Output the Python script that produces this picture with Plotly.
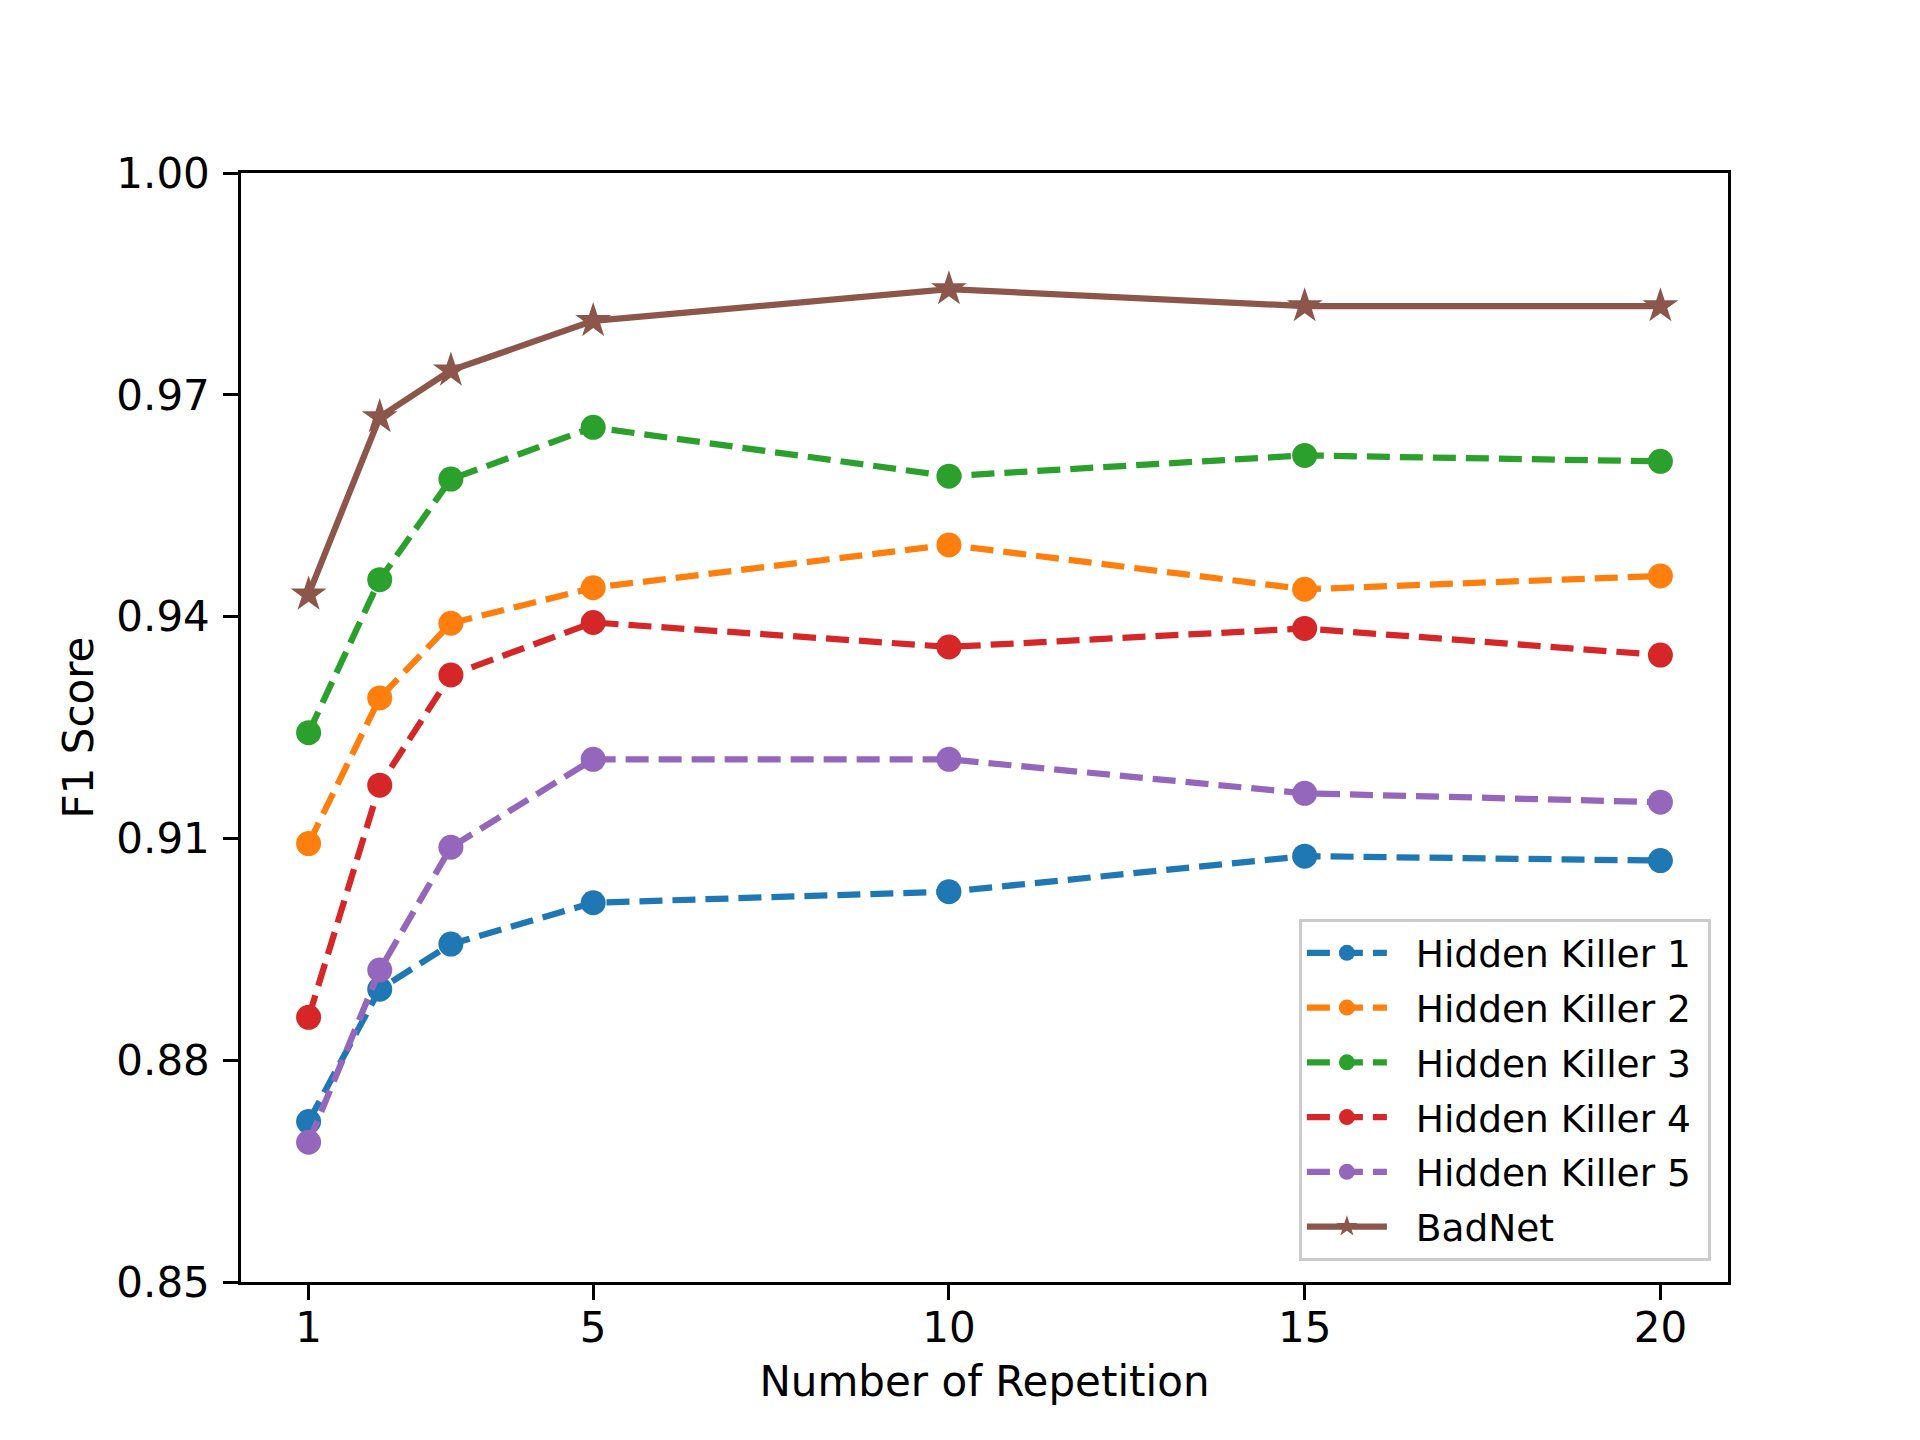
import plotly.graph_objects as go

x_vals = [1, 2, 3, 5, 10, 15, 20]
hk1 = [0.8717, 0.8896, 0.8957, 0.9013, 0.9028, 0.9076, 0.9070]
hk2 = [0.9093, 0.9290, 0.9391, 0.9439, 0.9497, 0.9437, 0.9455]
hk3 = [0.9243, 0.9450, 0.9586, 0.9656, 0.9590, 0.9618, 0.9610]
hk4 = [0.8858, 0.9172, 0.9321, 0.9392, 0.9359, 0.9384, 0.9348]
hk5 = [0.8689, 0.8922, 0.9088, 0.9207, 0.9207, 0.9161, 0.9149]
badnet = [0.9430, 0.9670, 0.9733, 0.9800, 0.9843, 0.9820, 0.9820]

names = ["Hidden Killer 1", "Hidden Killer 2", "Hidden Killer 3",
         "Hidden Killer 4", "Hidden Killer 5", "BadNet"]
series = [hk1, hk2, hk3, hk4, hk5, badnet]
colors = ["#1f77b4", "#ff7f0e", "#2ca02c", "#d62728", "#9467bd", "#8c564b"]

x_ticks = [1, 5, 10, 15, 20]
y_ticks = [0.85, 0.88, 0.91, 0.94, 0.97, 1.00]
y_tick_text = ["0.85", "0.88", "0.91", "0.94", "0.97", "1.00"]

fig = go.Figure()
for i, (name, ys, c) in enumerate(zip(names, series, colors)):
    is_bad = name == "BadNet"
    fig.add_trace(go.Scatter(
        x=x_vals, y=ys, name="\u00a0\u00a0" + name + "\u00a0", mode="lines+markers",
        legendgroup=f"g{i}",
        line=dict(color=c, width=6.25, dash="solid" if is_bad else "23px,10px"),
        marker=dict(color=c, size=27 if is_bad else 25,
                    symbol="star" if is_bad else "circle",
                    line=dict(width=0)),
    ))

font_family = "DejaVu Sans"
fig.update_layout(
    width=1920, height=1440,
    margin=dict(l=233, r=200, t=165, b=166),
    plot_bgcolor="white", paper_bgcolor="white",
    font=dict(family=font_family, size=42, color="black"),
    showlegend=True,
    legend=dict(
        x=0.9885, y=0.019, xanchor="right", yanchor="bottom",
        bgcolor="rgba(255,255,255,0.8)", bordercolor="#cccccc", borderwidth=3,
        font=dict(family=font_family, size=37.5, color="black"),
        itemwidth=80, tracegroupgap=3,
    ),
    xaxis=dict(
        range=[0.05, 20.95], tickvals=x_ticks, ticktext=[str(v) for v in x_ticks],
        showgrid=False, zeroline=False, showline=True, linecolor="black", linewidth=3.3,
        mirror=True, ticks="outside", ticklen=14.6, tickwidth=3.3, tickcolor="black",
        ticklabelstandoff=-8,
        title=dict(text="Number of Repetition", standoff=16,
                   font=dict(family=font_family, size=42)),
    ),
    yaxis=dict(
        range=[0.85, 1.00], tickvals=y_ticks, ticktext=y_tick_text,
        showgrid=False, zeroline=False, showline=True, linecolor="black", linewidth=3.3,
        mirror=True, ticks="outside", ticklen=14.6, tickwidth=3.3, tickcolor="black",
        ticklabelstandoff=5,
        title=dict(text="F1 Score", standoff=10,
                   font=dict(family=font_family, size=42)),
    ),
)

fig.write_html("out.html")
